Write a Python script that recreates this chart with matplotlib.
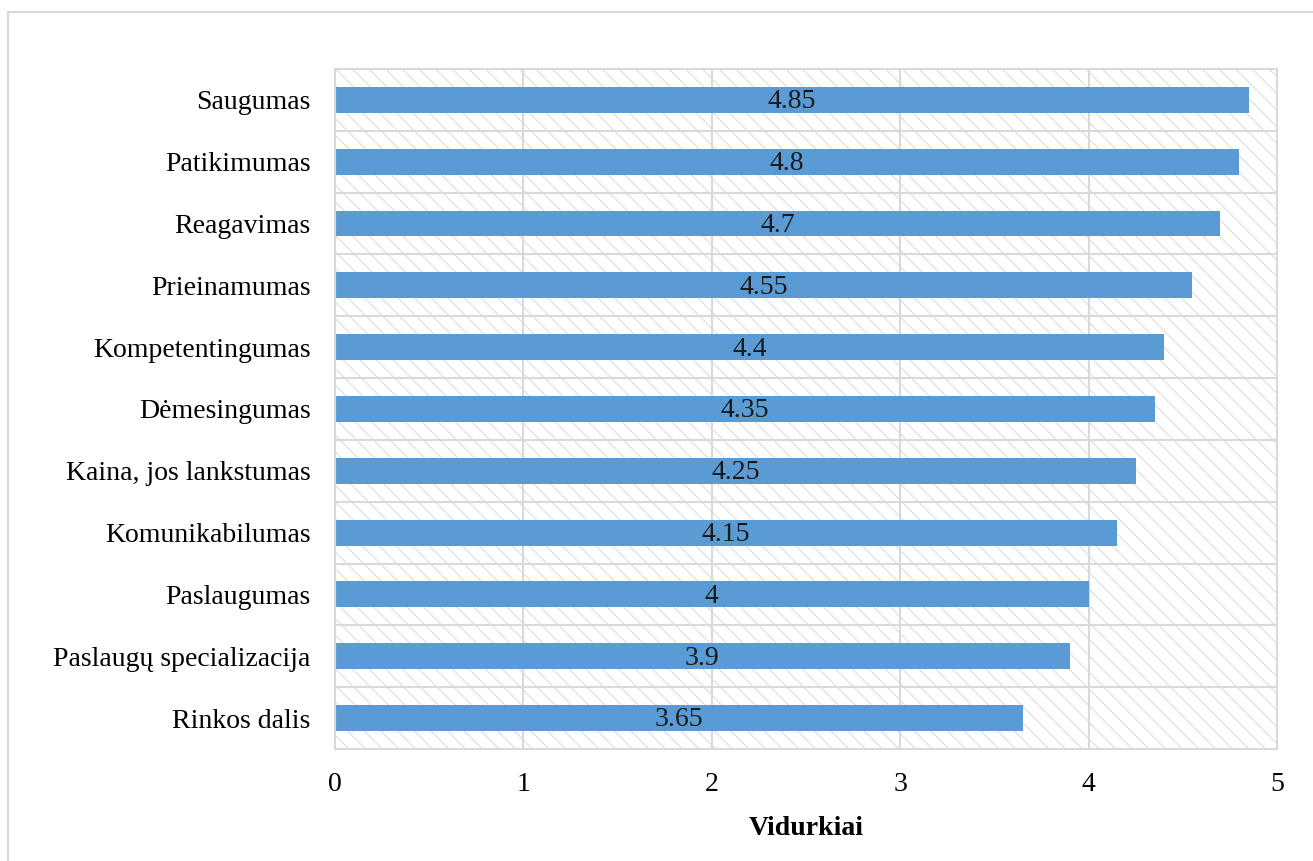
import matplotlib.pyplot as plt
from matplotlib.patches import Rectangle

plt.rcParams['font.family'] = ['Liberation Serif', 'DejaVu Serif']

kategorijos = ['Saugumas', 'Patikimumas', 'Reagavimas', 'Prieinamumas',
               'Kompetentingumas', 'Dėmesingumas', 'Kaina, jos lankstumas',
               'Komunikabilumas', 'Paslaugumas', 'Paslaugų specializacija',
               'Rinkos dalis']
vidurkiai = [4.85, 4.8, 4.7, 4.55, 4.4, 4.35, 4.25, 4.15, 4.0, 3.9, 3.65]
etiketes = ['4.85', '4.8', '4.7', '4.55', '4.4', '4.35', '4.25', '4.15', '4', '3.9', '3.65']

pilka = '#d9d9d9'
melyna = '#5b9bd5'
fs = 20

fig = plt.figure(figsize=(13.13, 8.61), dpi=100)
ax = fig.add_axes([0.2551, 0.1301, 0.9726 - 0.2551, 0.9199 - 0.1301])

# outer chart frame
fig.patches.append(Rectangle((8 / 1313, -0.1), 1.2, 1.1 - 12 / 861,
                             transform=fig.transFigure, fill=False,
                             edgecolor=pilka, linewidth=1.5))

n = len(kategorijos)
y = list(range(n))[::-1]

ax.set_xlim(0, 5)
ax.set_ylim(-0.5, n - 0.5)

# hatched plot area background
plt.rcParams['hatch.color'] = '#d9d9d9'
plt.rcParams['hatch.linewidth'] = 0.7
ax.add_patch(Rectangle((0, 0), 1, 1, transform=ax.transAxes, facecolor='white',
                       hatch='\\\\', edgecolor='#d9d9d9', linewidth=0, zorder=0))

for x in range(1, 5):
    ax.axvline(x, color=pilka, linewidth=1.5, zorder=1)
for k in range(n - 1):
    ax.axhline(k + 0.5, color=pilka, linewidth=1.5, zorder=1)

ax.barh(y, vidurkiai, height=0.42, color=melyna, zorder=2)
for yy, v, t in zip(y, vidurkiai, etiketes):
    ax.text(v / 2, yy - 0.03, t, ha='center', va='center', fontsize=fs,
            color='#1a1a1a', zorder=3)

ax.set_yticks(y)
ax.set_yticklabels(kategorijos, fontsize=fs)
ax.set_xticks(range(6))
ax.set_xticklabels([str(i) for i in range(6)], fontsize=fs)
ax.tick_params(length=0)
ax.tick_params(axis='x', pad=16.5)
ax.tick_params(axis='y', pad=17.5)
for s in ax.spines.values():
    s.set_color(pilka)
    s.set_linewidth(1.5)

ax.set_xlabel('Vidurkiai', fontsize=fs, fontweight='bold', labelpad=14)

fig.savefig('out.png', dpi=100)
